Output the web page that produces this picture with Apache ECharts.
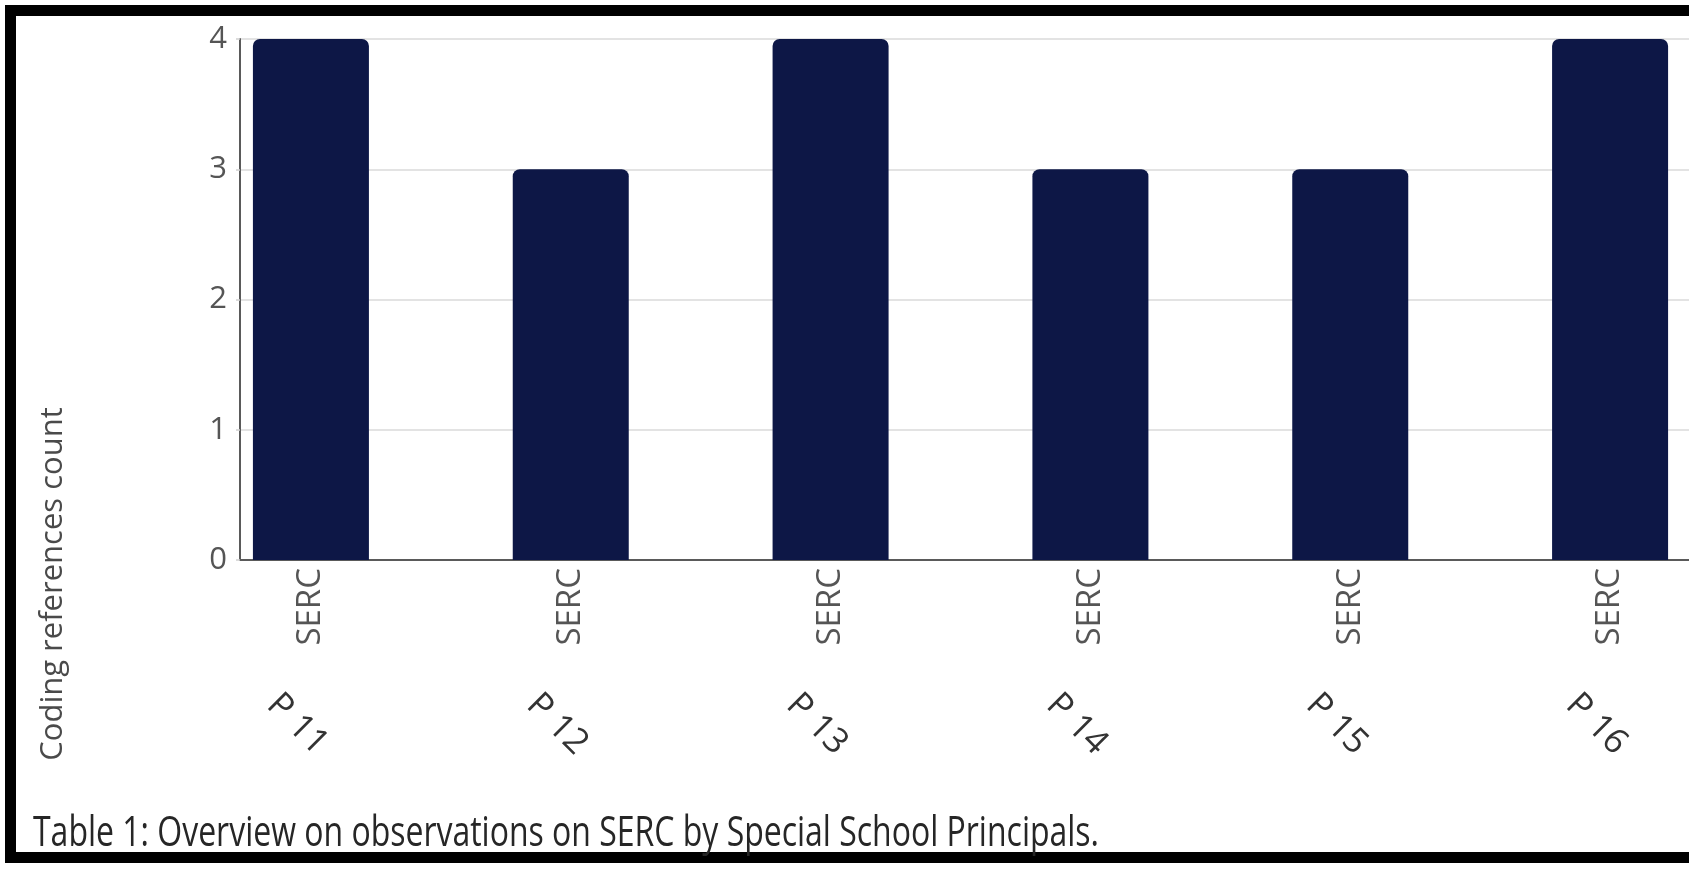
<!DOCTYPE html>
<html>
<head>
<meta charset="utf-8">
<title>Overview on observations on SERC</title>
<script src="https://cdn.jsdelivr.net/npm/echarts/dist/echarts.min.js"></script>
<style>
  html, body { margin: 0; padding: 0; background: #ffffff; overflow: hidden; width: 1689px; height: 871px; }
  #frame {
    position: absolute; left: 5px; top: 5px; width: 1700px; height: 858px;
    border-top: 11px solid #000; border-left: 11px solid #000; border-bottom: 11px solid #000;
    box-sizing: border-box;
  }
  /* the plot runs on past the right edge of the page, so the canvas is wider than the view */
  #chart { position: absolute; left: 0; top: 0; width: 1800px; height: 871px; }
</style>
</head>
<body>
<div id="frame"></div>
<div id="chart"></div>
<script>
// Coding references per principal, all coded under SERC
const codeLabels = ['SERC', 'SERC', 'SERC', 'SERC', 'SERC', 'SERC'];
const participants = ['P 11', 'P 12', 'P 13', 'P 14', 'P 15', 'P 16'];
const counts = [4, 3, 4, 3, 3, 4];
const yMin = 0;
const yMax = 4;
const yStep = 1;

const axisFont = 'Open Sans';
const captionText = 'Table 1: Overview on observations on SERC by Special School Principals.';
const yTitle = 'Coding references count';

// caption is set in a narrow face: squeeze the glyphs to the caption line length
const captionSize = 42;
const captionWidth = 1066;
const measureCtx = document.createElement('canvas').getContext('2d');
measureCtx.font = captionSize + 'px "' + axisFont + '"';
const captionScale = captionWidth / measureCtx.measureText(captionText).width;

const chart = echarts.init(document.getElementById('chart'), null, { renderer: 'canvas' });

chart.setOption({
  animation: false,
  graphic: [
    {
      type: 'text',
      x: 53,
      y: 584,
      rotation: Math.PI / 2,
      style: {
        text: yTitle,
        fontFamily: axisFont,
        fontSize: 31,
        fill: '#4a4a4a',
        align: 'center',
        verticalAlign: 'middle'
      }
    },
    {
      type: 'text',
      x: 33,
      y: 813,
      scaleX: captionScale,
      style: {
        text: captionText,
        fontFamily: axisFont,
        fontSize: captionSize,
        fill: '#262626',
        align: 'left',
        verticalAlign: 'top'
      }
    }
  ],
  grid: [
    // bar area: one category slot per principal
    { left: 181, top: 39, width: 1559, height: 521, containLabel: false },
    // axes frame starting at the visible value axis
    { left: 240, top: 39, width: 1449, height: 521, containLabel: false },
    // participant row, set a little to the left of the bars
    { left: 173, top: 39, width: 1559, height: 521, containLabel: false }
  ],
  xAxis: [
    {
      type: 'category', gridIndex: 0, data: codeLabels, position: 'bottom',
      axisLine: { show: false }, axisTick: { show: false },
      axisLabel: { rotate: 90, margin: 8, fontFamily: axisFont, fontSize: 33, color: '#555555', interval: 0 }
    },
    {
      type: 'value', gridIndex: 1, min: 0, max: 1, position: 'bottom',
      axisLine: { show: true, lineStyle: { color: '#5a5a5a', width: 2 } },
      axisTick: { show: false }, axisLabel: { show: false }, splitLine: { show: false }
    },
    {
      type: 'category', gridIndex: 2, data: participants, position: 'bottom',
      axisLine: { show: false }, axisTick: { show: false },
      axisLabel: {
        rotate: -45, align: 'center', verticalAlign: 'middle', margin: 170,
        padding: [16, 16, 0, 0],
        fontFamily: axisFont, fontSize: 35, color: '#333333', interval: 0
      }
    }
  ],
  yAxis: [
    { type: 'value', gridIndex: 0, min: yMin, max: yMax, interval: yStep, show: false },
    {
      type: 'value', gridIndex: 1, min: yMin, max: yMax, interval: yStep,
      axisLine: { show: true, lineStyle: { color: '#5a5a5a', width: 2 } },
      axisTick: { show: true, length: 4, lineStyle: { color: '#cfcfcf', width: 1.5 } },
      axisLabel: { margin: 13, fontFamily: axisFont, fontSize: 31, color: '#555555' },
      splitLine: { show: true, lineStyle: { color: '#dadada', width: 1.5 } }
    },
    { type: 'value', gridIndex: 2, min: yMin, max: yMax, interval: yStep, show: false }
  ],
  series: [{
    type: 'bar',
    xAxisIndex: 0,
    yAxisIndex: 0,
    data: counts,
    barWidth: 116,
    itemStyle: { color: '#0d1746', borderRadius: [7, 7, 0, 0] }
  }]
});
</script>
</body>
</html>
